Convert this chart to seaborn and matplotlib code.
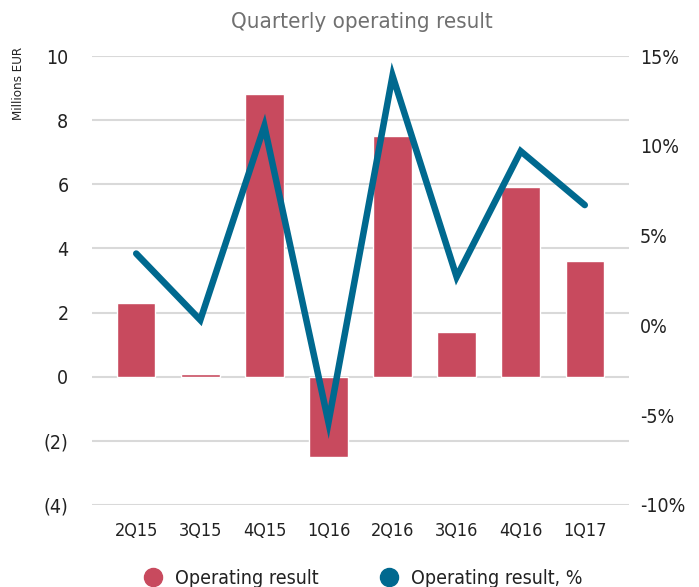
import numpy as np
import pandas as pd
import matplotlib
matplotlib.use("Agg")
import matplotlib.pyplot as plt
from matplotlib.lines import Line2D
from matplotlib.ticker import FuncFormatter
import seaborn as sns

# data
quarters = ["2Q15", "3Q15", "4Q15", "1Q16", "2Q16", "3Q16", "4Q16", "1Q17"]
result_meur = [2.3, 0.1, 8.8, -2.5, 7.5, 1.4, 5.9, 3.6]
result_pct = [4.0, 0.3, 11.1, -5.4, 13.9, 2.7, 9.7, 6.7]

bar_color = "#C84A5E"
line_color = "#00698F"

sns.set_theme(style="white")
# narrow font to get close to the condensed look of the original
plt.rcParams["font.family"] = ["DejaVu Sans"]
plt.rcParams["font.stretch"] = "condensed"

df = pd.DataFrame({"quarter": quarters, "meur": result_meur, "pct": result_pct})

fig = plt.figure(figsize=(6.99, 5.87), dpi=100)
ax = fig.add_axes([92 / 699, 82 / 587, 537 / 699, 449 / 587])

sns.barplot(data=df, x="quarter", y="meur", color=bar_color, saturation=1,
            width=0.6, ax=ax)
ax.set_ylim(-4, 10)
ax.set_yticks(np.arange(-4, 11, 2))
ax.yaxis.set_major_formatter(FuncFormatter(lambda v, p: f"({abs(v):.0f})" if v < 0 else f"{v:.0f}"))
ax.set_xlim(-0.69, len(quarters) - 0.31)
ax.grid(axis="y", color="#d9d9d9", linewidth=1.5)
ax.set_axisbelow(True)
ax.set_xlabel("")
ax.set_ylabel("")
ax.tick_params(axis="y", length=0, pad=17, labelsize=14, labelcolor="#222222")
ax.tick_params(axis="x", length=0, pad=12, labelsize=13, labelcolor="#222222")
for s in ax.spines.values():
    s.set_visible(False)

ax2 = ax.twinx()
sns.lineplot(x=np.arange(len(quarters)), y=df["pct"], color=line_color,
             linewidth=4.7, ax=ax2, solid_capstyle="round", solid_joinstyle="miter")
ax2.set_ylim(-10, 15)
ax2.set_yticks(np.arange(-10, 16, 5))
ax2.yaxis.set_major_formatter(FuncFormatter(lambda v, p: f"{v:.0f}%"))
ax2.set_ylabel("")
ax2.tick_params(axis="y", length=0, pad=8, labelsize=14, labelcolor="#222222")
ax2.grid(False)
for s in ax2.spines.values():
    s.set_visible(False)

fig.text(362 / 699, 1 - 22 / 587, "Quarterly operating result", ha="center", va="center",
         fontsize=16, color="#707070")
fig.text(19 / 699, 1 - 83 / 587, "Millions EUR", rotation=90, ha="center", va="center",
         fontsize=9.5, color="#222222")

handles = [
    Line2D([], [], marker="o", linestyle="", markersize=13, color=bar_color),
    Line2D([], [], marker="o", linestyle="", markersize=13, color=line_color),
]
fig.legend(handles, ["Operating result", "Operating result, %"], loc="center",
           bbox_to_anchor=(358 / 699, 9 / 587), ncol=2, frameon=False, fontsize=14,
           handletextpad=0.15, columnspacing=2.6, labelcolor="#222222")

fig.savefig("out.png", dpi=100)
